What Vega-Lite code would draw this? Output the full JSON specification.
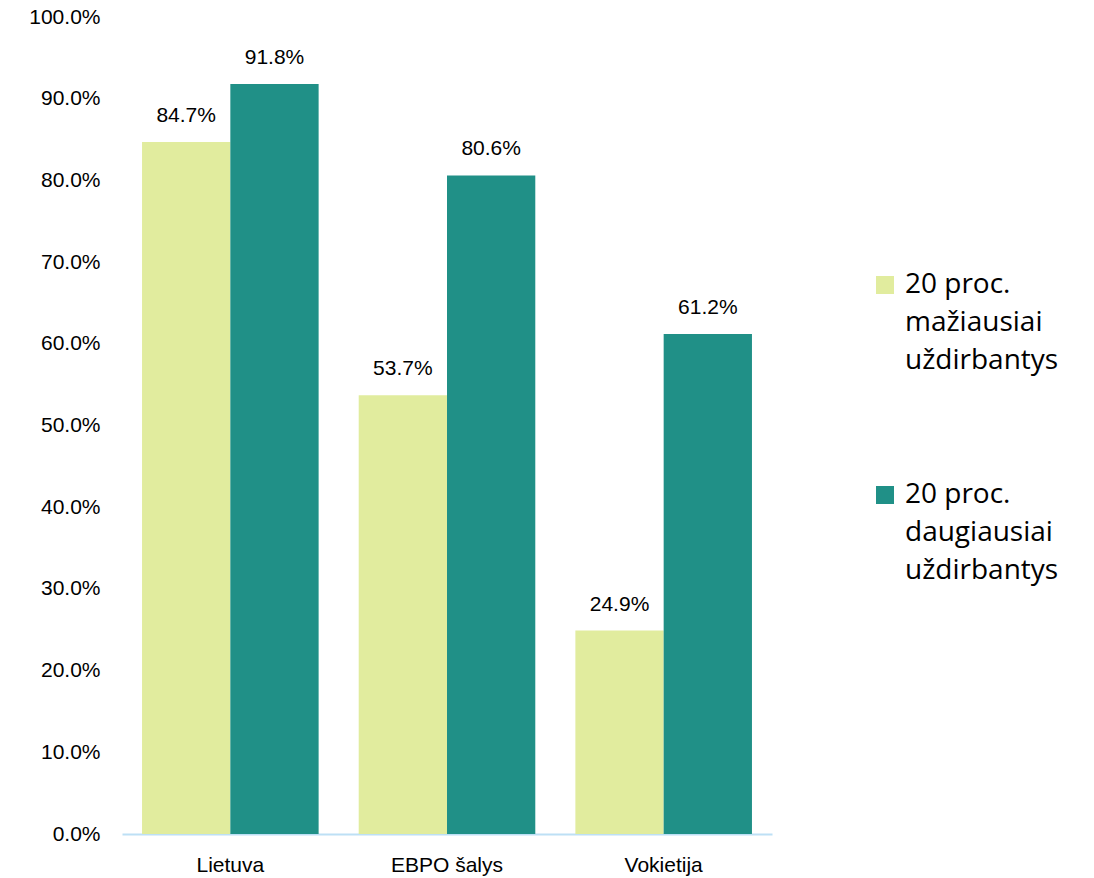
{
  "$schema": "https://vega.github.io/schema/vega-lite/v6.json",
  "width": 650,
  "height": 817,
  "autosize": {"type": "none"},
  "padding": {"left": 122, "top": 17, "right": 322, "bottom": 44},
  "background": "white",
  "config": {
    "view": {"stroke": null},
    "font": "Liberation Sans"
  },
  "data": {
    "values": [
      {"country": "Lietuva", "group": "20 proc. mažiausiai uždirbantys", "value": 0.847},
      {"country": "Lietuva", "group": "20 proc. daugiausiai uždirbantys", "value": 0.918},
      {"country": "EBPO šalys", "group": "20 proc. mažiausiai uždirbantys", "value": 0.537},
      {"country": "EBPO šalys", "group": "20 proc. daugiausiai uždirbantys", "value": 0.806},
      {"country": "Vokietija", "group": "20 proc. mažiausiai uždirbantys", "value": 0.249},
      {"country": "Vokietija", "group": "20 proc. daugiausiai uždirbantys", "value": 0.612}
    ]
  },
  "encoding": {
    "x": {
      "field": "country", "type": "nominal", "sort": null,
      "scale": {"paddingInner": 0.185, "paddingOuter": 0.0925},
      "axis": {
        "title": null, "labelAngle": 0, "labelFontSize": 21, "labelColor": "#000000",
        "labelPadding": 20, "ticks": false, "domainColor": "#BDE0F5", "domainWidth": 2
      }
    },
    "xOffset": {
      "field": "group", "type": "nominal", "sort": null,
      "scale": {"paddingInner": 0, "paddingOuter": 0}
    },
    "y": {
      "field": "value", "type": "quantitative",
      "scale": {"domain": [0, 1], "nice": false},
      "axis": {
        "title": null, "format": ".1%", "values": [0,0.1,0.2,0.3,0.4,0.5,0.6,0.7,0.8,0.9,1.0],
        "labelOverlap": false, "grid": false, "domain": false, "ticks": false, "labelFontSize": 21,
        "labelColor": "#000000", "labelPadding": 22
      }
    }
  },
  "layer": [
    {
      "mark": {"type": "bar"},
      "encoding": {
        "color": {
          "field": "group", "type": "nominal", "sort": null,
          "scale": {
            "domain": ["20 proc. mažiausiai uždirbantys", "20 proc. daugiausiai uždirbantys"],
            "range": ["#E1EC9E", "#209087"]
          },
          "legend": {
            "title": null, "orient": "none", "legendX": 749, "legendY": 254,
            "symbolType": "square", "symbolSize": 324, "symbolStrokeWidth": 0,
            "labelFontSize": 28, "labelLineHeight": 38, "labelLimit": 0,
            "labelColor": "#000000", "labelFont": "Open Sans", "labelOffset": 6,
            "labelBaseline": "middle", "rowPadding": 106, "padding": 0,
            "labelExpr": "datum.label == '20 proc. mažiausiai uždirbantys' ? ['20 proc.', 'mažiausiai', 'uždirbantys'] : ['20 proc.', 'daugiausiai', 'uždirbantys']",
            "encode": {"labels": {"update": {"lineHeight": {"value": 38}}}}
          }
        }
      }
    },
    {
      "mark": {"type": "text", "baseline": "bottom", "dy": -16, "fontSize": 21, "color": "#000000"},
      "encoding": {
        "text": {"field": "value", "type": "quantitative", "format": ".1%"}
      }
    }
  ]
}
